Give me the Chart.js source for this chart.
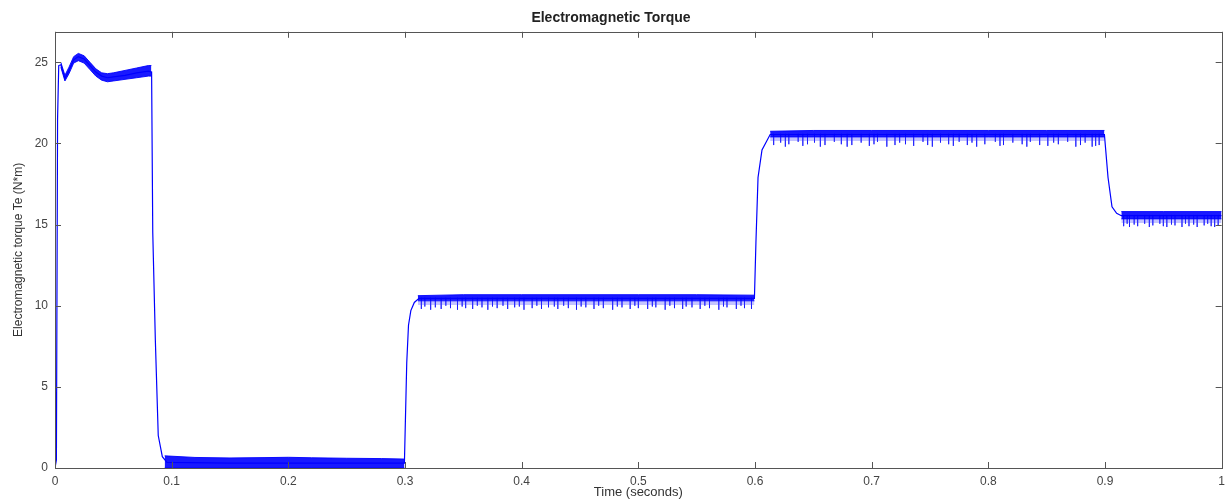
<!DOCTYPE html>
<html>
<head>
<meta charset="utf-8">
<script src="https://cdn.jsdelivr.net/npm/chart.js@4.4.0/dist/chart.umd.min.js"></script>
<style>
  html, body { margin: 0; padding: 0; background: #fff; }
  #wrap { width: 1231px; height: 503px; }
</style>
</head>
<body>
<div id="wrap"><canvas id="torque" width="1231" height="503"></canvas></div>
<script>
// ..........DATA..........
// main torque trace: time (s) / Te (N*m)
var traceT = [0, 0.0012, 0.0022, 0.0032, 0.005, 0.0085, 0.012, 0.016, 0.020, 0.025, 0.030, 0.035, 0.040,
  0.045, 0.050, 0.060, 0.070, 0.080, 0.0828, 0.0838, 0.0860, 0.0885, 0.0920, 0.0960, 0.150, 0.200,
  0.250, 0.2995, 0.3015, 0.3030, 0.3050, 0.3080, 0.3120, 0.400, 0.500, 0.5995, 0.6008, 0.6026,
  0.6060, 0.6130, 0.700, 0.800, 0.8995, 0.9026, 0.9060, 0.9100, 0.9140, 0.950, 1.0];
var traceV = [0, 0.5, 21.5, 24.8, 24.85, 24.0, 24.5, 25.15, 25.35, 25.2, 24.8, 24.4, 24.15,
  24.05, 24.1, 24.2, 24.35, 24.45, 24.4, 14.5, 7.9, 2.0, 0.7, 0.35, 0.3, 0.3,
  0.3, 0.3, 6.5, 8.8, 9.7, 10.2, 10.45, 10.45, 10.45, 10.45, 13.9, 17.9,
  19.6, 20.55, 20.55, 20.55, 20.55, 17.9, 16.1, 15.7, 15.55, 15.55, 15.55];

// ripple band during start-up
var startT  = [0.005, 0.0085, 0.012, 0.016, 0.020, 0.025, 0.030, 0.035, 0.040, 0.045, 0.050, 0.060, 0.070, 0.080, 0.0826];
var startHi = [25.0, 24.2, 24.7, 25.35, 25.55, 25.4, 25.0, 24.6, 24.35, 24.3, 24.35, 24.5, 24.65, 24.8, 24.8];
var startLo = [24.7, 23.85, 24.3, 24.95, 25.1, 24.95, 24.55, 24.15, 23.9, 23.8, 23.85, 23.95, 24.05, 24.15, 24.15];

// ripple band at no load (0.1 - 0.3 s)
var lowT  = [0.094, 0.12, 0.15, 0.18, 0.20, 0.22, 0.25, 0.28, 0.2995];
var lowHi = [0.75, 0.65, 0.62, 0.64, 0.66, 0.63, 0.6, 0.58, 0.55];
var lowLo = [0, 0, 0, 0, 0, 0, 0, 0, 0];

// loaded plateaus: top of band, bottom of dense core, bottom of comb
var p10T = [0.311, 0.35, 0.40, 0.45, 0.50, 0.55, 0.5995];
var p10Hi = [10.62, 10.68, 10.68, 10.68, 10.68, 10.68, 10.65];
var p10Core = [10.3, 10.3, 10.3, 10.3, 10.3, 10.3, 10.3];
var p10Comb = [10.05, 10.05, 10.05, 10.05, 10.05, 10.05, 10.05];

var p20T = [0.613, 0.65, 0.70, 0.75, 0.80, 0.85, 0.8995];
var p20Hi = [20.75, 20.8, 20.8, 20.8, 20.8, 20.8, 20.8];
var p20Core = [20.4, 20.4, 20.4, 20.4, 20.4, 20.4, 20.4];
var p20Comb = [20.15, 20.15, 20.15, 20.15, 20.15, 20.15, 20.15];

var p15T = [0.914, 0.95, 1.0];
var p15Hi = [15.8, 15.8, 15.8];
var p15Core = [15.35, 15.35, 15.35];
var p15Comb = [15.1, 15.1, 15.1];

// deeper downward spikes: times and lowest values
var spikes10 = [0.314, 0.317, 0.322, 0.326, 0.331, 0.335, 0.339, 0.345, 0.349, 0.352, 0.358, 0.362, 0.366,
  0.371, 0.375, 0.379, 0.384, 0.388, 0.394, 0.398, 0.402, 0.409, 0.413, 0.417, 0.423, 0.428, 0.431,
  0.436, 0.440, 0.447, 0.451, 0.455, 0.462, 0.466, 0.470, 0.478, 0.482, 0.486, 0.493, 0.497, 0.500,
  0.508, 0.512, 0.515, 0.523, 0.527, 0.531, 0.538, 0.541, 0.546, 0.553, 0.557, 0.561, 0.569, 0.573,
  0.576, 0.584, 0.588, 0.591, 0.597];
var depth10 = [9.8, 9.95, 9.75, 9.9, 9.8, 10.0, 9.85, 9.75, 9.95, 9.85, 9.8, 10.0, 9.9,
  9.75, 9.95, 9.85, 10.0, 9.8, 9.9, 9.95, 9.75, 9.85, 10.0, 9.8, 9.9, 9.95, 9.8,
  10.0, 9.85, 9.75, 9.95, 9.9, 9.8, 10.0, 9.85, 9.75, 9.95, 9.9, 9.8, 10.0, 9.85,
  9.8, 9.95, 9.9, 9.75, 10.0, 9.85, 9.8, 9.95, 9.9, 9.8, 10.0, 9.85, 9.75, 9.95,
  9.9, 9.8, 10.0, 9.85, 9.8];
var spikes20 = [0.616, 0.622, 0.626, 0.629, 0.637, 0.641, 0.645, 0.651, 0.656, 0.660, 0.668, 0.674, 0.679,
  0.683, 0.691, 0.698, 0.702, 0.705, 0.713, 0.720, 0.724, 0.729, 0.736, 0.744, 0.748, 0.752, 0.759,
  0.766, 0.770, 0.775, 0.782, 0.786, 0.790, 0.797, 0.806, 0.810, 0.813, 0.821, 0.829, 0.833, 0.836,
  0.844, 0.851, 0.856, 0.860, 0.868, 0.875, 0.879, 0.883, 0.889, 0.892, 0.895];
var depth20 = [19.9, 20.05, 19.8, 19.95, 20.1, 19.85, 19.95, 20.05, 19.8, 19.9, 20.1, 19.95, 19.8,
  19.9, 20.05, 19.85, 19.95, 20.1, 19.8, 19.9, 20.05, 19.95, 19.85, 20.1, 19.9, 19.8, 20.05,
  19.95, 19.85, 20.1, 19.9, 20.05, 19.8, 19.95, 20.1, 19.85, 19.9, 20.05, 19.95, 19.8, 20.1,
  19.9, 19.85, 20.05, 19.95, 20.1, 19.8, 19.9, 20.05, 19.8, 19.85, 19.9];
var spikes15 = [0.916, 0.919, 0.921, 0.925, 0.928, 0.934, 0.938, 0.941, 0.947, 0.950, 0.953, 0.957, 0.960,
  0.966, 0.969, 0.972, 0.976, 0.979, 0.985, 0.988, 0.991, 0.994, 0.997];
var depth15 = [14.9, 15.05, 14.85, 15.0, 14.9, 15.05, 14.85, 14.95, 15.05, 14.9, 14.85, 15.0, 14.95,
  14.85, 15.05, 14.9, 15.0, 14.85, 14.95, 15.05, 14.9, 14.85, 14.95];
var spike10Top = 10.5, spike20Top = 20.6, spike15Top = 15.6;

var xTicks = [0, 0.1, 0.2, 0.3, 0.4, 0.5, 0.6, 0.7, 0.8, 0.9, 1];
var yTicks = [0, 5, 10, 15, 20, 25];

var BLUE = '#0000ff';

// ..........HELPERS..........
function pts(ts, vs) {
  return ts.map(function (t, i) { return { x: t, y: vs[i] }; });
}

function line(ts, vs, extra) {
  var ds = { data: pts(ts, vs), borderColor: BLUE, borderWidth: 1, pointRadius: 0, fill: false, tension: 0 };
  return Object.assign(ds, extra || {});
}

// upper edge + lower edge filled between them
function band(ts, hi, lo, color, edge) {
  return [
    line(ts, hi, { borderColor: edge || color, borderWidth: 1 }),
    line(ts, lo, { borderColor: edge || color, borderWidth: 1, fill: { target: '-1' }, backgroundColor: color })
  ];
}

function spikeData(times, top, lows) {
  var out = [];
  times.forEach(function (t, i) {
    out.push({ x: t, y: top }, { x: t, y: lows[i] }, { x: t, y: null });
  });
  return out;
}

function spikes(times, top, lows) {
  return { data: spikeData(times, top, lows), borderColor: 'rgba(0,0,255,0.55)', borderWidth: 1, pointRadius: 0, spanGaps: false };
}

var DARK = 'rgba(0,0,255,0.9)';
var LIGHT = 'rgba(60,60,255,0.3)';

var datasets = [];
datasets.push(line(traceT, traceV, { borderWidth: 1.2 }));
datasets = datasets.concat(band(startT, startHi, startLo, DARK));
datasets = datasets.concat(band(lowT, lowHi, lowLo, DARK));
datasets = datasets.concat(band(p10T, p10Core, p10Comb, LIGHT, 'rgba(0,0,0,0)'));
datasets.push(spikes(spikes10, spike10Top, depth10));
datasets = datasets.concat(band(p10T, p10Hi, p10Core, DARK));
datasets = datasets.concat(band(p20T, p20Core, p20Comb, LIGHT, 'rgba(0,0,0,0)'));
datasets.push(spikes(spikes20, spike20Top, depth20));
datasets = datasets.concat(band(p20T, p20Hi, p20Core, DARK));
datasets = datasets.concat(band(p15T, p15Core, p15Comb, LIGHT, 'rgba(0,0,0,0)'));
datasets.push(spikes(spikes15, spike15Top, depth15));
datasets = datasets.concat(band(p15T, p15Hi, p15Core, DARK));

// box around the plot with inward tick marks on all four sides (MATLAB look)
var boxTicks = {
  id: 'boxTicks',
  afterDatasetsDraw: function (chart) {
    var ctx = chart.ctx, a = chart.chartArea, x = chart.scales.x, y = chart.scales.y;
    ctx.save();
    ctx.strokeStyle = '#555';
    ctx.lineWidth = 1;
    ctx.strokeRect(Math.round(a.left) + 0.5, Math.round(a.top) + 0.5, Math.round(a.right - a.left), Math.round(a.bottom - a.top));
    ctx.beginPath();
    xTicks.forEach(function (v) {
      var px = Math.round(x.getPixelForValue(v)) + 0.5;
      ctx.moveTo(px, a.bottom); ctx.lineTo(px, a.bottom - 6);
      ctx.moveTo(px, a.top); ctx.lineTo(px, a.top + 6);
    });
    yTicks.forEach(function (v) {
      var py = Math.round(y.getPixelForValue(v)) + 0.5;
      ctx.moveTo(a.left, py); ctx.lineTo(a.left + 6, py);
      ctx.moveTo(a.right, py); ctx.lineTo(a.right - 6, py);
    });
    ctx.stroke();
    ctx.restore();
  }
};

var ctx = document.getElementById('torque').getContext('2d');
var chart = new Chart(ctx, {
  type: 'line',
  data: { datasets: datasets },
  plugins: [boxTicks],
  options: {
    responsive: false,
    animation: false,
    parsing: false,
    normalized: true,
    layout: { padding: { left: 0, right: 9, top: 0, bottom: 0 } },
    plugins: {
      legend: { display: false },
      tooltip: { enabled: false },
      title: {
        display: true,
        text: 'Electromagnetic Torque',
        color: '#222',
        font: { family: 'Liberation Sans', size: 14, weight: 'bold' },
        padding: { top: 10, bottom: 5 }
      }
    },
    scales: {
      x: {
        type: 'linear',
        min: 0,
        max: 1,
        grid: { display: false, drawTicks: false },
        border: { display: false },
        afterFit: function (s) { s.height = 35; },
        afterBuildTicks: function (s) { s.ticks = xTicks.map(function (v) { return { value: v }; }); },
        ticks: {
          padding: 6,
          color: '#444',
          maxRotation: 0,
          font: { family: 'Liberation Sans', size: 12 },
          callback: function (v) { return String(Math.round(v * 10) / 10); }
        },
        title: {
          display: true,
          text: 'Time (seconds)',
          color: '#333',
          font: { family: 'Liberation Sans', size: 13 },
          padding: { top: 0, bottom: 3 }
        }
      },
      y: {
        min: 0,
        max: 26.88,
        grid: { display: false, drawTicks: false },
        border: { display: false },
        afterFit: function (s) { s.width = 55; },
        afterBuildTicks: function (s) { s.ticks = yTicks.map(function (v) { return { value: v }; }); },
        ticks: {
          padding: 7,
          color: '#444',
          font: { family: 'Liberation Sans', size: 12 }
        },
        title: {
          display: true,
          text: 'Electromagnetic torque Te (N*m)',
          color: '#333',
          font: { family: 'Liberation Sans', size: 12 },
          padding: { top: 11, bottom: 0 }
        }
      }
    }
  }
});
</script>
</body>
</html>
